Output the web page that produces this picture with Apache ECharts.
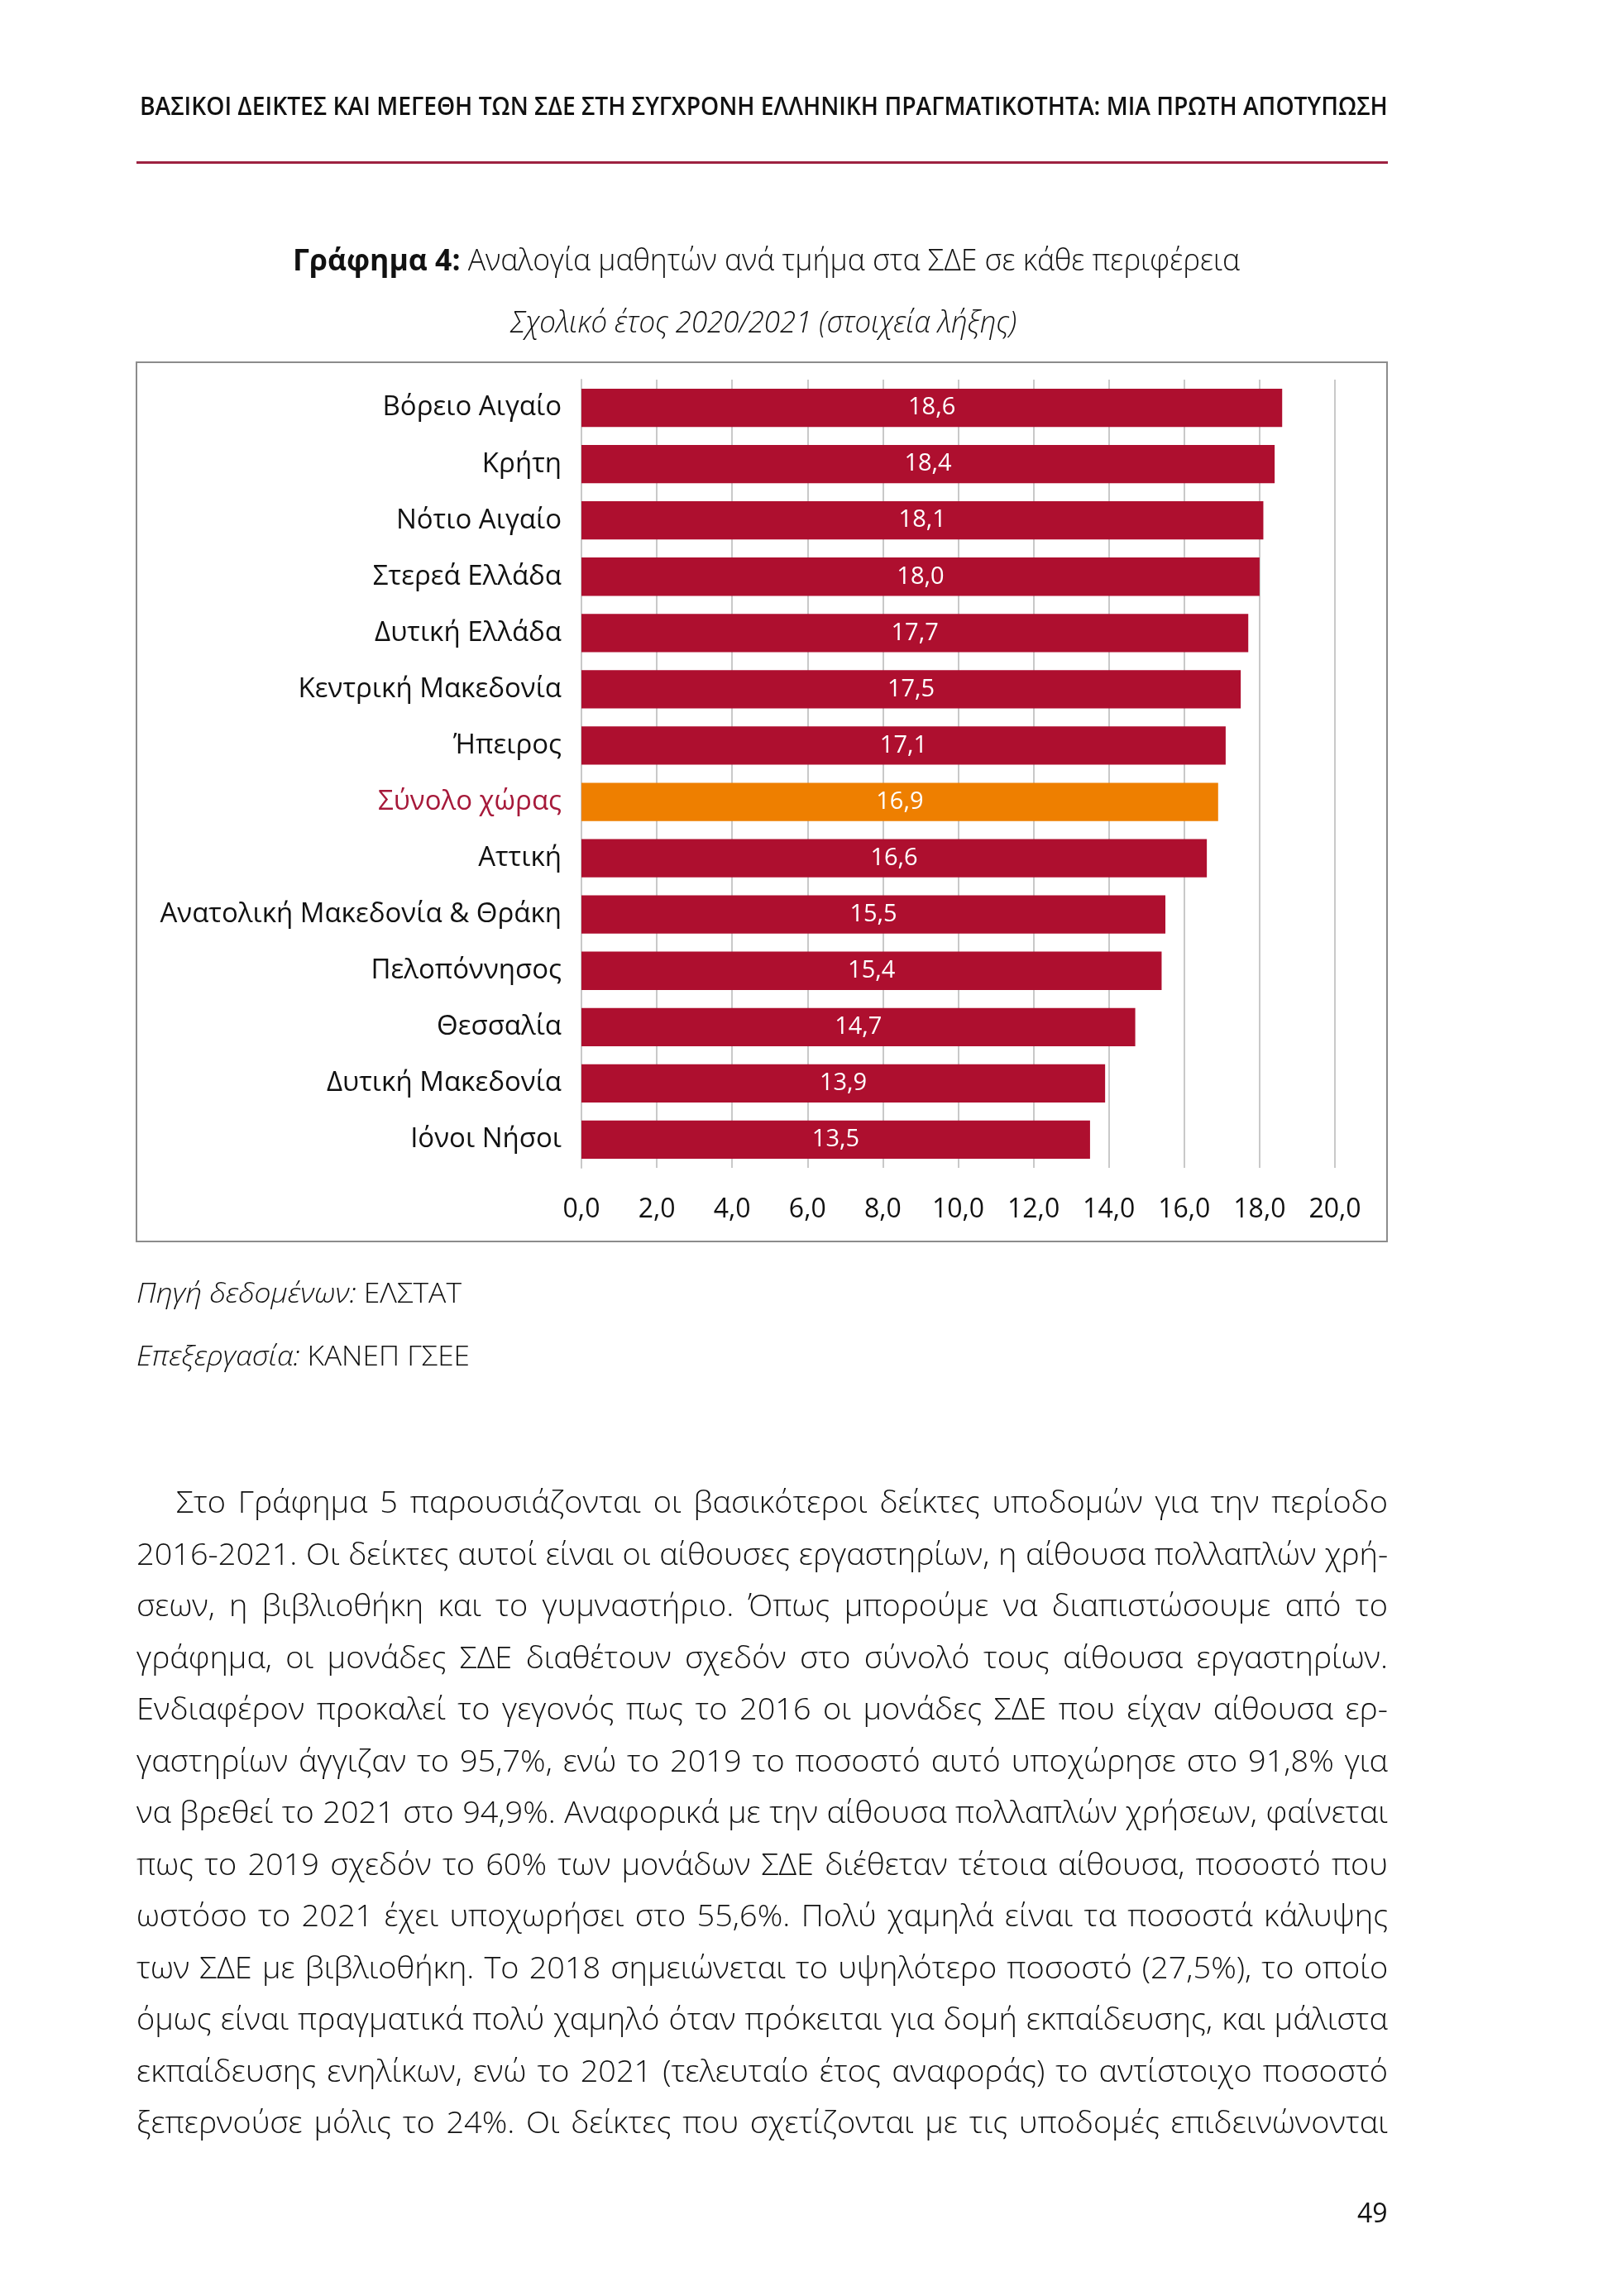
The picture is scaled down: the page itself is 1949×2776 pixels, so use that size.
<!DOCTYPE html>
<html lang="el">
<head>
<meta charset="utf-8">
<title>Γράφημα 4</title>
<script src="https://cdn.jsdelivr.net/npm/echarts@6/dist/echarts.min.js"></script>
<style>
html,body{margin:0;padding:0;background:#fff;}
body{width:1949px;height:2776px;position:relative;overflow:hidden;}
#chart{position:absolute;left:0;top:0;width:1949px;height:2776px;}
.txt{position:absolute;white-space:pre;transform-origin:0 50%;color:#141414;font-family:"Open Sans",sans-serif;}
#rule{position:absolute;left:165px;top:195px;width:1513px;height:3px;background:#9D2140;}
</style>
</head>
<body>
<div id="chart"></div>
<div id="rule"></div>
<div id="page"></div>
<script>
// ---------------- data ----------------
const regions = ['Βόρειο Αιγαίο','Κρήτη','Νότιο Αιγαίο','Στερεά Ελλάδα','Δυτική Ελλάδα','Κεντρική Μακεδονία','Ήπειρος','Σύνολο χώρας','Αττική','Ανατολική Μακεδονία & Θράκη','Πελοπόννησος','Θεσσαλία','Δυτική Μακεδονία','Ιόνοι Νήσοι'];
const ratios = [18.6, 18.4, 18.1, 18.0, 17.7, 17.5, 17.1, 16.9, 16.6, 15.5, 15.4, 14.7, 13.9, 13.5];
const highlightRegion = 'Σύνολο χώρας';
const axisMin = 0;
const axisMax = 20;
const axisStep = 2;

const headerText = 'ΒΑΣΙΚΟΙ ΔΕΙΚΤΕΣ ΚΑΙ ΜΕΓΕΘΗ ΤΩΝ ΣΔΕ ΣΤΗ ΣΥΓΧΡΟΝΗ ΕΛΛΗΝΙΚΗ ΠΡΑΓΜΑΤΙΚΟΤΗΤΑ: ΜΙΑ ΠΡΩΤΗ ΑΠΟΤΥΠΩΣΗ';
const titleBold = 'Γράφημα 4:';
const titleRest = 'Αναλογία μαθητών ανά τμήμα στα ΣΔΕ σε κάθε περιφέρεια';
const subtitleText = 'Σχολικό έτος 2020/2021 (στοιχεία λήξης)';
const sourceItalic = 'Πηγή δεδομένων:';
const sourceRest = 'ΕΛΣΤΑΤ';
const procItalic = 'Επεξεργασία:';
const procRest = 'ΚΑΝΕΠ ΓΣΕΕ';
const paragraphLines = [
  'Στο Γράφημα 5 παρουσιάζονται οι βασικότεροι δείκτες υποδομών για την περίοδο',
  '2016-2021. Οι δείκτες αυτοί είναι οι αίθουσες εργαστηρίων, η αίθουσα πολλαπλών χρή-',
  'σεων, η βιβλιοθήκη και το γυμναστήριο. Όπως μπορούμε να διαπιστώσουμε από το',
  'γράφημα, οι μονάδες ΣΔΕ διαθέτουν σχεδόν στο σύνολό τους αίθουσα εργαστηρίων.',
  'Ενδιαφέρον προκαλεί το γεγονός πως το 2016 οι μονάδες ΣΔΕ που είχαν αίθουσα ερ-',
  'γαστηρίων άγγιζαν το 95,7%, ενώ το 2019 το ποσοστό αυτό υποχώρησε στο 91,8% για',
  'να βρεθεί το 2021 στο 94,9%. Αναφορικά με την αίθουσα πολλαπλών χρήσεων, φαίνεται',
  'πως το 2019 σχεδόν το 60% των μονάδων ΣΔΕ διέθεταν τέτοια αίθουσα, ποσοστό που',
  'ωστόσο το 2021 έχει υποχωρήσει στο 55,6%. Πολύ χαμηλά είναι τα ποσοστά κάλυψης',
  'των ΣΔΕ με βιβλιοθήκη. Το 2018 σημειώνεται το υψηλότερο ποσοστό (27,5%), το οποίο',
  'όμως είναι πραγματικά πολύ χαμηλό όταν πρόκειται για δομή εκπαίδευσης, και μάλιστα',
  'εκπαίδευσης ενηλίκων, ενώ το 2021 (τελευταίο έτος αναφοράς) το αντίστοιχο ποσοστό',
  'ξεπερνούσε μόλις το 24%. Οι δείκτες που σχετίζονται με τις υποδομές επιδεινώνονται'
];
const pageNumber = '49';

// ---------------- helpers ----------------
const fmt = v => Number(v).toFixed(1).replace('.', ',');
const mctx = document.createElement('canvas').getContext('2d');
function tw(font, text) { mctx.font = font; return mctx.measureText(text).width; }

const RED = '#AE0F2F';
const ORANGE = '#EE7F00';
const LABEL_RED = '#A6193A';
const GRID = '#C9C9C9';
const FONT = 'Open Sans';

// ---------------- HTML page text ----------------
const page = document.getElementById('page');
function addLine(text, left, cy, font, color) {
  const d = document.createElement('div');
  d.className = 'txt';
  d.style.font = font;
  d.style.lineHeight = '50px';
  d.style.left = left + 'px';
  d.style.top = (cy - 27) + 'px';
  if (color) d.style.color = color;
  d.textContent = text;
  page.appendChild(d);
  return d;
}
// header
const hd = addLine(headerText, 169, 129, '600 31px "Open Sans"', '#111');
hd.style.transform = 'scaleX(' + (1509 / hd.offsetWidth) + ')';

// paragraph (justified lines)
const pFont = '300 37px "Open Sans"';
const rightEdge = 1678;
const lineDivs = paragraphLines.map((t, i) => {
  const x0 = i === 0 ? 213 : 165;
  const d = addLine(t, x0, 1817 + i * 62.5, pFont, '#111');
  return { d, x0, nat: d.offsetWidth, spaces: (t.match(/ /g) || []).length };
});
let c = Infinity;
lineDivs.forEach(o => { c = Math.min(c, (rightEdge - o.x0) / o.nat); });
c *= 0.995;
lineDivs.forEach(o => {
  const W = (rightEdge - o.x0) / c;
  const ws = o.spaces ? (W - o.nat) / o.spaces : 0;
  o.d.style.wordSpacing = ws + 'px';
  o.d.style.transform = 'scaleX(' + c + ')';
});

// page number
const pn = addLine(pageNumber, 0, 2677, '400 32px "Open Sans"', '#111');
pn.style.left = (1678 - pn.offsetWidth) + 'px';

// ---------------- ECharts figure ----------------
const graphics = [];
graphics.push({
  type: 'rect', silent: true, z: -1,
  shape: { x: 165, y: 438, width: 1512, height: 1063 },
  style: { fill: 'none', stroke: '#8C8C8C', lineWidth: 2 }
});
const fTB = '700 36px "Open Sans"', fTL = '300 36px "Open Sans"';
const wB = tw(fTB, titleBold), wSp = tw(fTL, ' '), wL = tw(fTL, titleRest);
const sT = 1145 / (wB + wSp + wL);
graphics.push({ type: 'text', x: 354, y: 317, scaleX: sT,
  style: { text: titleBold, font: fTB, fill: '#111', align: 'left', verticalAlign: 'middle' } });
graphics.push({ type: 'text', x: 354 + (wB + wSp) * sT, y: 317, scaleX: sT,
  style: { text: titleRest, font: fTL, fill: '#111', align: 'left', verticalAlign: 'middle' } });
const fSub = 'italic 300 36px "Open Sans"';
const sS = 612 / tw(fSub, subtitleText);
graphics.push({ type: 'text', x: 617, y: 392, scaleX: sS,
  style: { text: subtitleText, font: fSub, fill: '#111', align: 'left', verticalAlign: 'middle' } });
function sourceLine(it, rest, y, target) {
  const fI = 'italic 300 33px "Open Sans"', fR = '300 33px "Open Sans"';
  const a = tw(fI, it), sp = tw(fR, ' '), b = tw(fR, rest);
  const s = target / (a + sp + b);
  graphics.push({ type: 'text', x: 165, y: y, scaleX: s,
    style: { text: it, font: fI, fill: '#111', align: 'left', verticalAlign: 'middle' } });
  graphics.push({ type: 'text', x: 165 + (a + sp) * s, y: y, scaleX: s,
    style: { text: rest, font: fR, fill: '#111', align: 'left', verticalAlign: 'middle' } });
}
sourceLine(sourceItalic, sourceRest, 1566, 393);
sourceLine(procItalic, procRest, 1642, 403);

const chart = echarts.init(document.getElementById('chart'), null, { renderer: 'canvas' });
chart.setOption({
  backgroundColor: '#ffffff',
  animation: false,
  graphic: graphics,
  grid: { left: 703, right: 1949 - 1614, top: 459, bottom: 2776 - 1412, containLabel: false },
  xAxis: {
    type: 'value', min: axisMin, max: axisMax, interval: axisStep,
    axisLine: { show: false }, axisTick: { show: false },
    splitLine: { show: true, lineStyle: { color: GRID, width: 2 } },
    axisLabel: { fontFamily: FONT, fontSize: 32, color: '#111', margin: 35, formatter: v => fmt(v) }
  },
  yAxis: {
    type: 'category', inverse: true, data: regions,
    axisLine: { show: true, lineStyle: { color: GRID, width: 2 } },
    axisTick: { show: false },
    axisLabel: {
      fontFamily: FONT, fontSize: 33, margin: 24,
      color: v => (v === highlightRegion ? LABEL_RED : '#111')
    }
  },
  series: [{
    type: 'bar',
    barCategoryGap: '32%',
    data: ratios.map((v, i) => ({
      value: v,
      itemStyle: { color: regions[i] === highlightRegion ? ORANGE : RED }
    })),
    label: {
      show: true, position: 'inside', color: '#ffffff',
      fontFamily: FONT, fontSize: 29, formatter: p => fmt(p.value)
    }
  }]
});
</script>
</body>
</html>
